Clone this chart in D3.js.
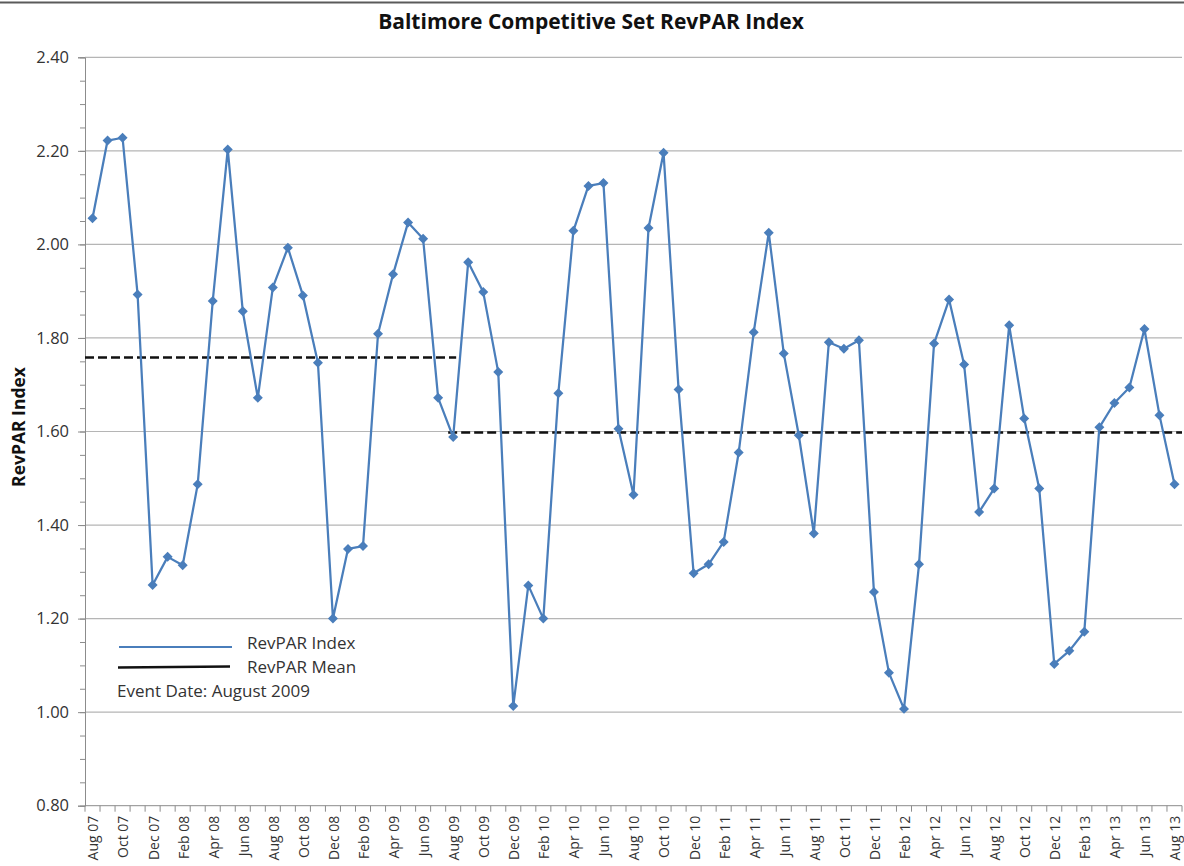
<!DOCTYPE html>
<html>
<head>
<meta charset="utf-8">
<script src="https://cdn.jsdelivr.net/npm/d3@7"></script>
<style>
  body { margin: 0; background: #fff; }
  text { font-family: "Open Sans", Lato, sans-serif; }
</style>
</head>
<body>
<div id="chart"></div>
<script>
// monthly categories, Aug 07 .. Aug 13
var months = [
  "Aug 07","Sep 07","Oct 07","Nov 07","Dec 07",
  "Jan 08","Feb 08","Mar 08","Apr 08","May 08","Jun 08","Jul 08","Aug 08","Sep 08","Oct 08","Nov 08","Dec 08",
  "Jan 09","Feb 09","Mar 09","Apr 09","May 09","Jun 09","Jul 09","Aug 09","Sep 09","Oct 09","Nov 09","Dec 09",
  "Jan 10","Feb 10","Mar 10","Apr 10","May 10","Jun 10","Jul 10","Aug 10","Sep 10","Oct 10","Nov 10","Dec 10",
  "Jan 11","Feb 11","Mar 11","Apr 11","May 11","Jun 11","Jul 11","Aug 11","Sep 11","Oct 11","Nov 11","Dec 11",
  "Jan 12","Feb 12","Mar 12","Apr 12","May 12","Jun 12","Jul 12","Aug 12","Sep 12","Oct 12","Nov 12","Dec 12",
  "Jan 13","Feb 13","Mar 13","Apr 13","May 13","Jun 13","Jul 13","Aug 13"
];

var revparIndex = [
  2.056, 2.222, 2.228, 1.893, 1.272,
  1.332, 1.314, 1.487, 1.879, 2.203, 1.857, 1.672, 1.908, 1.993, 1.891, 1.747, 1.200,
  1.349, 1.355, 1.809, 1.936, 2.047, 2.012, 1.672, 1.588, 1.962, 1.898, 1.727, 1.013,
  1.271, 1.200, 1.682, 2.029, 2.125, 2.131, 1.606, 1.465, 2.035, 2.196, 1.690, 1.297,
  1.316, 1.364, 1.555, 1.812, 2.025, 1.767, 1.592, 1.382, 1.791, 1.777, 1.795, 1.257,
  1.084, 1.007, 1.316, 1.788, 1.882, 1.743, 1.428, 1.478, 1.827, 1.628, 1.478, 1.103,
  1.131, 1.172, 1.609, 1.661, 1.694, 1.819, 1.635, 1.487
];

// mean before / after the event month
var eventMonth = "Aug 09";
var meanBefore = 1.758;
var meanAfter = 1.598;

var yTicks = [0.8, 1.0, 1.2, 1.4, 1.6, 1.8, 2.0, 2.2, 2.4];
var yMinor = d3.range(0.8, 2.4001, 0.05);

var width = 1184, height = 866;

var svg = d3.select("#chart").append("svg")
  .attr("width", width)
  .attr("height", height);

// frame line across the top
svg.append("line")
  .attr("x1", 0).attr("x2", width)
  .attr("y1", 2.5).attr("y2", 2.5)
  .attr("stroke", "#5a5a5a").attr("stroke-width", 2);

var x = d3.scaleBand().domain(months).range([85, 1182]).padding(0);
var y = d3.scaleLinear().domain([0.8, 2.4]).range([805.7, 57.3]);

var cx = function(m) { return x(m) + x.bandwidth() / 2; };

// gridlines
svg.append("g")
  .selectAll("line")
  .data(yTicks.slice(1))
  .enter().append("line")
  .attr("x1", 85).attr("x2", 1182)
  .attr("y1", function(d) { return y(d); })
  .attr("y2", function(d) { return y(d); })
  .attr("stroke", "#b5b5b5")
  .attr("stroke-width", 1.2);

// y axis
var yAxis = svg.append("g")
  .attr("transform", "translate(85,0)")
  .call(d3.axisLeft(y).tickValues(yTicks).tickFormat(d3.format(".2f")).tickSize(7).tickPadding(9));
yAxis.select(".domain").attr("stroke", "#8c8c8c");
yAxis.selectAll(".tick line").attr("stroke", "#8c8c8c");
yAxis.selectAll(".tick text")
  .attr("font-size", 16.5).attr("fill", "#333")
  .style("font-family", "'Open Sans', sans-serif");

svg.append("g")
  .attr("transform", "translate(85,0)")
  .call(d3.axisLeft(y).tickValues(yMinor).tickFormat("").tickSize(5))
  .call(function(g) { g.select(".domain").remove(); })
  .selectAll(".tick line").attr("stroke", "#8c8c8c");

// x axis: ticks between categories, labels every other month
var edges = months.map(function(m) { return x(m); }).concat([x.range()[1]]);
svg.append("line")
  .attr("x1", 85).attr("x2", 1182)
  .attr("y1", y(0.8)).attr("y2", y(0.8))
  .attr("stroke", "#8c8c8c");
svg.append("g")
  .selectAll("line")
  .data(edges)
  .enter().append("line")
  .attr("x1", function(d) { return d; })
  .attr("x2", function(d) { return d; })
  .attr("y1", y(0.8)).attr("y2", y(0.8) + 6)
  .attr("stroke", "#8c8c8c");

svg.append("g")
  .selectAll("text")
  .data(months.filter(function(m, i) { return i % 2 === 0; }))
  .enter().append("text")
  .attr("transform", function(m) { return "translate(" + (cx(m) + 1) + "," + (y(0.8) + 10) + ") rotate(-90)"; })
  .attr("text-anchor", "end")
  .attr("dy", "0.35em")
  .attr("font-size", 14)
  .attr("fill", "#333")
  .text(function(m) { return m; });

// mean lines
var meanSegs = [
  { v: meanBefore, x1: x.range()[0], x2: cx(eventMonth) + 3 },
  { v: meanAfter, x1: cx(eventMonth) - 5, x2: x.range()[1] }
];
svg.append("g")
  .selectAll("line")
  .data(meanSegs)
  .enter().append("line")
  .attr("x1", function(d) { return d.x1; })
  .attr("x2", function(d) { return d.x2; })
  .attr("y1", function(d) { return y(d.v); })
  .attr("y2", function(d) { return y(d.v); })
  .attr("stroke", "#111")
  .attr("stroke-width", 2.5)
  .attr("stroke-dasharray", "9,4");

// RevPAR index line + diamonds
var line = d3.line()
  .x(function(d, i) { return cx(months[i]); })
  .y(function(d) { return y(d); });

svg.append("path")
  .datum(revparIndex)
  .attr("d", line)
  .attr("fill", "none")
  .attr("stroke", "#4a7ebb")
  .attr("stroke-width", 2.25)
  .attr("stroke-linejoin", "round");

svg.append("g")
  .selectAll("path")
  .data(revparIndex)
  .enter().append("path")
  .attr("d", d3.symbol().type(d3.symbolSquare).size(50))
  .attr("transform", function(d, i) { return "translate(" + cx(months[i]) + "," + y(d) + ") rotate(45)"; })
  .attr("fill", "#4a7ebb");

// title and axis title
svg.append("text")
  .attr("x", 591).attr("y", 29)
  .attr("text-anchor", "middle")
  .attr("font-size", 21)
  .attr("font-weight", "bold")
  .attr("fill", "#111")
  .text("Baltimore Competitive Set RevPAR Index");

svg.append("text")
  .attr("transform", "translate(25,427) rotate(-90)")
  .attr("text-anchor", "middle")
  .attr("font-size", 17.5)
  .attr("font-weight", "bold")
  .attr("fill", "#111")
  .text("RevPAR Index");

// legend
var legend = svg.append("g");
legend.append("line")
  .attr("x1", 119).attr("x2", 232).attr("y1", 647).attr("y2", 647)
  .attr("stroke", "#4a7ebb").attr("stroke-width", 2);
legend.append("text")
  .attr("x", 247).attr("y", 643).attr("dy", "0.35em")
  .attr("font-size", 17).attr("fill", "#333")
  .text("RevPAR Index");
legend.append("line")
  .attr("x1", 118).attr("x2", 230).attr("y1", 667.5).attr("y2", 666.5)
  .attr("stroke", "#111").attr("stroke-width", 2.5);
legend.append("text")
  .attr("x", 247).attr("y", 667).attr("dy", "0.35em")
  .attr("font-size", 17).attr("fill", "#333")
  .text("RevPAR Mean");
legend.append("text")
  .attr("x", 117).attr("y", 691).attr("dy", "0.35em")
  .attr("font-size", 17).attr("fill", "#333")
  .text("Event Date: August 2009");
</script>
</body>
</html>
